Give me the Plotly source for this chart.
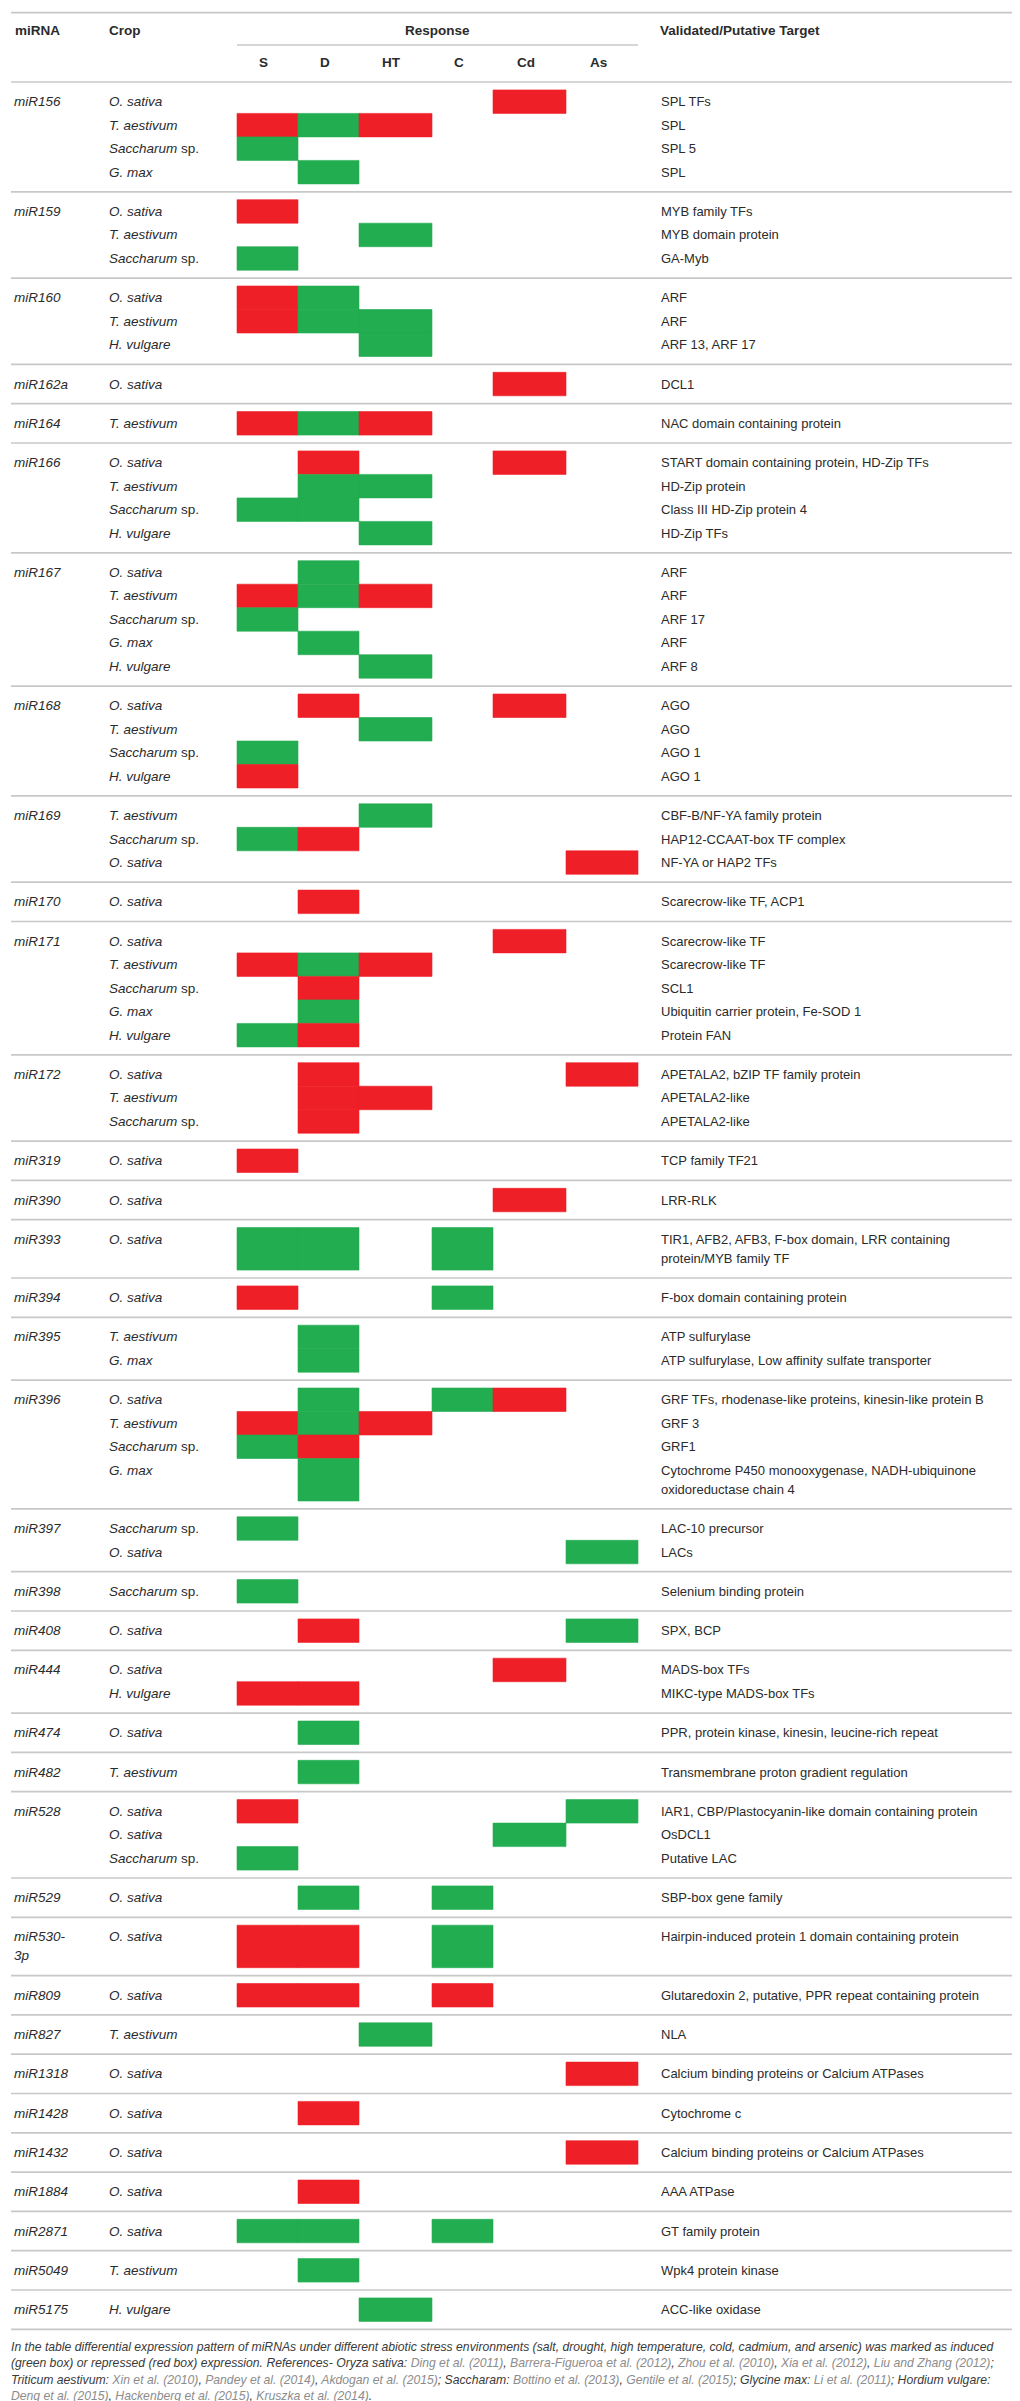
import plotly.graph_objects as go

# ---- data ------------------------------------------------------------
stress_cols = ["S", "D", "HT", "C", "Cd", "As"]

group_names = ["miR156", "miR159", "miR160", "miR162a", "miR164", "miR166", "miR167",
               "miR168", "miR169", "miR170", "miR171", "miR172", "miR319", "miR390",
               "miR393", "miR394", "miR395", "miR396", "miR397", "miR398", "miR408",
               "miR444", "miR474", "miR482", "miR528", "miR529", "miR530-<br>3p", "miR809",
               "miR827", "miR1318", "miR1428", "miR1432", "miR1884", "miR2871",
               "miR5049", "miR5175"]
group_sizes = [4, 3, 3, 1, 1, 4, 5, 4, 3, 1, 5, 3, 1, 1, 1, 1, 2, 4, 2, 1, 1, 2,
               1, 1, 3, 1, 1, 1, 1, 1, 1, 1, 1, 1, 1, 1]

crops = ["O. sativa", "T. aestivum", "Saccharum sp.", "G. max",
         "O. sativa", "T. aestivum", "Saccharum sp.",
         "O. sativa", "T. aestivum", "H. vulgare",
         "O. sativa",
         "T. aestivum",
         "O. sativa", "T. aestivum", "Saccharum sp.", "H. vulgare",
         "O. sativa", "T. aestivum", "Saccharum sp.", "G. max", "H. vulgare",
         "O. sativa", "T. aestivum", "Saccharum sp.", "H. vulgare",
         "T. aestivum", "Saccharum sp.", "O. sativa",
         "O. sativa",
         "O. sativa", "T. aestivum", "Saccharum sp.", "G. max", "H. vulgare",
         "O. sativa", "T. aestivum", "Saccharum sp.",
         "O. sativa", "O. sativa", "O. sativa", "O. sativa",
         "T. aestivum", "G. max",
         "O. sativa", "T. aestivum", "Saccharum sp.", "G. max",
         "Saccharum sp.", "O. sativa",
         "Saccharum sp.", "O. sativa",
         "O. sativa", "H. vulgare",
         "O. sativa", "T. aestivum",
         "O. sativa", "O. sativa", "Saccharum sp.",
         "O. sativa", "O. sativa", "O. sativa", "T. aestivum", "O. sativa",
         "O. sativa", "O. sativa", "O. sativa", "O. sativa", "T. aestivum", "H. vulgare"]

# R = repressed (red box), G = induced (green box), . = no data; order S D HT C Cd As
responses = ["....R.", "RGR...", "G.....", ".G....",
             "R.....", "..G...", "G.....",
             "RG....", "RGG...", "..G...",
             "....R.",
             "RGR...",
             ".R..R.", ".GG...", "GG....", "..G...",
             ".G....", "RGR...", "G.....", ".G....", "..G...",
             ".R..R.", "..G...", "G.....", "R.....",
             "..G...", "GR....", ".....R",
             ".R....",
             "....R.", "RGR...", ".R....", ".G....", "GR....",
             ".R...R", ".RR...", ".R....",
             "R.....", "....R.", "GG.G..", "R..G..",
             ".G....", ".G....",
             ".G.GR.", "RGR...", "GR....", ".G....",
             "G.....", ".....G",
             "G.....", ".R...G",
             "....R.", "RR....",
             ".G....", ".G....",
             "R....G", "....G.", "G.....",
             ".G.G..", "RR.G..", "RR.R..", "..G...", ".....R",
             ".R....", ".....R", ".R....", "GG.G..", ".G....", "..G..."]

targets = ["SPL TFs", "SPL", "SPL 5", "SPL",
           "MYB family TFs", "MYB domain protein", "GA-Myb",
           "ARF", "ARF", "ARF 13, ARF 17",
           "DCL1",
           "NAC domain containing protein",
           "START domain containing protein, HD-Zip TFs", "HD-Zip protein",
           "Class III HD-Zip protein 4", "HD-Zip TFs",
           "ARF", "ARF", "ARF 17", "ARF", "ARF 8",
           "AGO", "AGO", "AGO 1", "AGO 1",
           "CBF-B/NF-YA family protein", "HAP12-CCAAT-box TF complex", "NF-YA or HAP2 TFs",
           "Scarecrow-like TF, ACP1",
           "Scarecrow-like TF", "Scarecrow-like TF", "SCL1",
           "Ubiquitin carrier protein, Fe-SOD 1", "Protein FAN",
           "APETALA2, bZIP TF family protein", "APETALA2-like", "APETALA2-like",
           "TCP family TF21",
           "LRR-RLK",
           "TIR1, AFB2, AFB3, F-box domain, LRR containing<br>protein/MYB family TF",
           "F-box domain containing protein",
           "ATP sulfurylase", "ATP sulfurylase, Low affinity sulfate transporter",
           "GRF TFs, rhodenase-like proteins, kinesin-like protein B", "GRF 3", "GRF1",
           "Cytochrome P450 monooxygenase, NADH-ubiquinone<br>oxidoreductase chain 4",
           "LAC-10 precursor", "LACs",
           "Selenium binding protein",
           "SPX, BCP",
           "MADS-box TFs", "MIKC-type MADS-box TFs",
           "PPR, protein kinase, kinesin, leucine-rich repeat",
           "Transmembrane proton gradient regulation",
           "IAR1, CBP/Plastocyanin-like domain containing protein", "OsDCL1", "Putative LAC",
           "SBP-box gene family",
           "Hairpin-induced protein 1 domain containing protein",
           "Glutaredoxin 2, putative, PPR repeat containing protein",
           "NLA",
           "Calcium binding proteins or Calcium ATPases",
           "Cytochrome c",
           "Calcium binding proteins or Calcium ATPases",
           "AAA ATPase",
           "GT family protein",
           "Wpk4 protein kinase",
           "ACC-like oxidase"]

footnote = [
    "In the table differential expression pattern of miRNAs under different abiotic stress environments "
    "(salt, drought, high temperature, cold, cadmium, and arsenic) was marked as induced",
    "(green box) or repressed (red box) expression. References- Oryza sativa: {Ding et al. (2011)}, "
    "{Barrera-Figueroa et al. (2012)}, {Zhou et al. (2010)}, {Xia et al. (2012)}, {Liu and Zhang (2012)};",
    "Triticum aestivum: {Xin et al. (2010)}, {Pandey et al. (2014)}, {Akdogan et al. (2015)}; "
    "Saccharam: {Bottino et al. (2013)}, {Gentile et al. (2015)}; Glycine max: {Li et al. (2011)}; Hordium vulgare:",
    "{Deng et al. (2015)}, {Hackenberg et al. (2015)}, {Kruszka et al. (2014)}.",
]

# ---- layout constants ------------------------------------------------
W, H = 1020, 2401
FONT = "Liberation Sans, Arial, Helvetica, sans-serif"
TXT = "#2b2b2b"
RULE = "#c8c8c8"
RED, GREEN = "#ee1f27", "#22ad50"
col_edges = [229, 290, 351, 424, 485, 558, 630]
X_MIR, X_CROP, X_TGT = 4, 99, 651
TOP, ROW_H, EXTRA, PAD = 74, 23.5, 19, 7.9

shapes, ann = [], []


def hline(y, x0=3, x1=W):
    shapes.append(dict(type="line", xref="x", yref="y", x0=x0, x1=x1, y0=y, y1=y,
                       line=dict(color=RULE, width=1.7)))


def text(x, y, s, size=13.5, anchor="left", color=TXT):
    ann.append(dict(x=x, y=y, xref="x", yref="y", text=s, showarrow=False,
                    xanchor=anchor, yanchor="middle",
                    font=dict(family=FONT, size=size, color=color)))


def crop_html(c):
    if c.endswith(" sp."):
        return "<i>%s</i> sp." % c[:-4]
    return "<i>%s</i>" % c


# header
hline(4.7)
text(X_MIR + 1, 22, "<b>miRNA</b>")
text(X_CROP, 22, "<b>Crop</b>")
text((col_edges[0] + col_edges[-1]) / 2, 22, "<b>Response</b>", anchor="center")
text(X_TGT - 1, 22, "<b>Validated/Putative Target</b>")
hline(37, col_edges[0], col_edges[-1])
for i, c in enumerate(stress_cols):
    text((col_edges[i] + col_edges[i + 1]) / 2 - 4, 54, "<b>%s</b>" % c, anchor="center")
hline(TOP)

# body
y = TOP
r = 0
for g, name in enumerate(group_names):
    y += PAD
    for k in range(group_sizes[g]):
        tgt_lines = targets[r].split("<br>")
        name_lines = name.split("<br>") if k == 0 else []
        nlines = max(len(tgt_lines), len(name_lines), 1)
        h = ROW_H + EXTRA * (nlines - 1)
        for j, code in enumerate(responses[r]):
            if code == ".":
                continue
            col = RED if code == "R" else GREEN
            shapes.append(dict(type="rect", xref="x", yref="y", layer="below",
                               x0=col_edges[j], x1=col_edges[j + 1], y0=y, y1=y + h,
                               fillcolor=col, line=dict(color=col, width=0.6)))
        yc = y + ROW_H / 2
        for li, s in enumerate(name_lines):
            text(X_MIR, yc + li * EXTRA, "<i>%s</i>" % s)
        text(X_CROP, yc, crop_html(crops[r]))
        for li, s in enumerate(tgt_lines):
            text(X_TGT, yc + li * EXTRA, s, size=13)
        y += h
        r += 1
    y += PAD
    hline(y)

# footnote
fy = y + 17.5
for line in footnote:
    s = line.replace("{", "<span style='color:#8c8c8c'>").replace("}", "</span>")
    text(1, fy, "<i>%s</i>" % s, size=12.2, color="#3a3a3a")
    fy += 16.5

fig = go.Figure()
fig.update_layout(
    width=W, height=H,
    margin=dict(l=0, r=0, t=0, b=0),
    paper_bgcolor="white", plot_bgcolor="white",
    xaxis=dict(range=[0, W], visible=False, fixedrange=True),
    yaxis=dict(range=[H, 0], visible=False, fixedrange=True),
    shapes=shapes, annotations=ann, showlegend=False,
)
fig.write_html("out.html")
